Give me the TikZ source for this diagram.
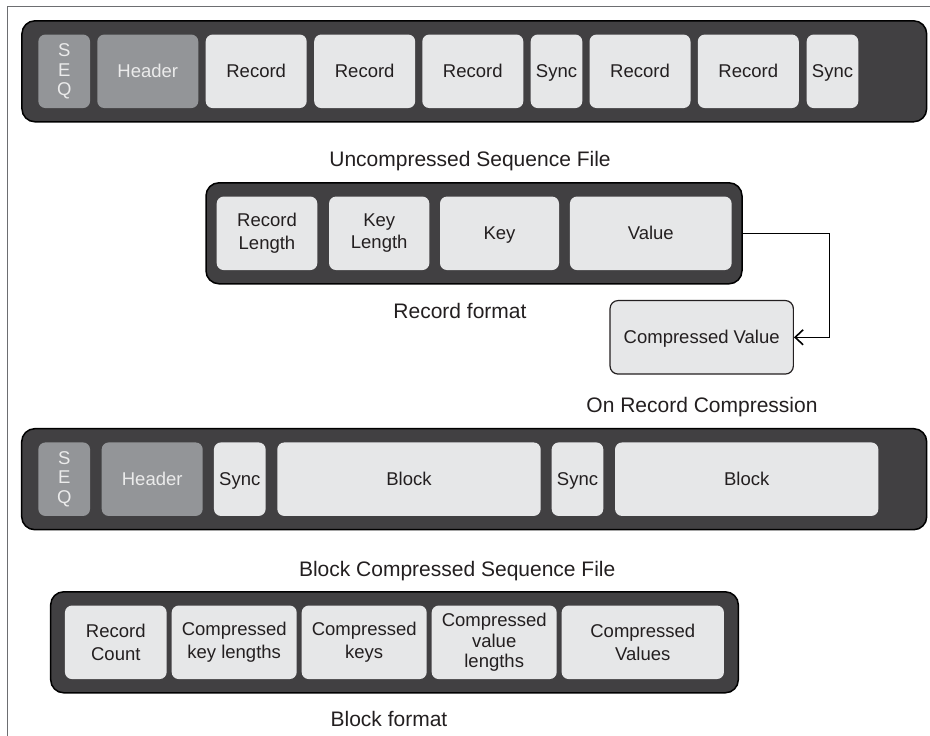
\documentclass[tikz,border=0pt]{standalone}
\usepackage{fontspec}
\setmainfont{Liberation Sans}
\usepackage{xcolor}
\usetikzlibrary{arrows.meta,positioning}
\definecolor{bandgray}{HTML}{414042}
\definecolor{headgray}{HTML}{939598}
\definecolor{cellgray}{HTML}{E6E7E8}
\definecolor{framegray}{HTML}{6D6E71}
\definecolor{inkgray}{HTML}{231F20}

\begin{document}
\begin{tikzpicture}[x=1pt, y=-1pt, >={Straight Barb[length=8pt,width=15pt]},
  band/.style={draw=black, line width=1.5pt, fill=bandgray, rounded corners=13pt,
    inner sep=0pt, minimum height=101pt},
  cell/.style={fill=cellgray, rounded corners=7pt, inner sep=0pt, minimum height=73.5pt,
    text=inkgray, font=\fontsize{18.5}{22.5}\selectfont, align=center},
  hcell/.style={cell, fill=headgray, text=white!92!black},
  oneline/.style={text height=13.3pt, text depth=0pt},
  capt/.style={anchor=base, text=inkgray, font=\fontsize{21}{25}\selectfont}]

  \useasboundingbox (0,0) rectangle (930,736);
  \draw[framegray, line width=1.5pt] (7.5,736) -- (7.5,6.5) -- (930,6.5);

  % Uncompressed sequence file
  \node[band, minimum width=904.7pt] (fileA) at (474.3, 71.3) {};
  \node[hcell, minimum width=51.7pt, font=\fontsize{18.5}{19.5}\selectfont] (seqA) at (64.2, 71.3) {S\\E\\Q};
  \node[hcell, oneline, minimum width=101pt] (headA) at (147.8, 71.3) {Header};
  \node[cell, oneline, minimum width=101pt] (recA1) at (256.2, 71.3) {Record};
  \node[cell, oneline, minimum width=101pt] (recA2) at (364.7, 71.3) {Record};
  \node[cell, oneline, minimum width=101pt] (recA3) at (472.8, 71.3) {Record};
  \node[cell, oneline, minimum width=51.6pt] (syncA1) at (556.5, 71.3) {Sync};
  \node[cell, oneline, minimum width=101pt] (recA4) at (640, 71.3) {Record};
  \node[cell, oneline, minimum width=101pt] (recA5) at (748.3, 71.3) {Record};
  \node[cell, oneline, minimum width=51.6pt] (syncA2) at (832.5, 71.3) {Sync};
  \node[capt] (captA) at (470, 166) {Uncompressed Sequence File};

  % Record format
  \node[band, minimum width=536pt] (recband) at (474, 233.3) {};
  \node[cell, minimum width=100.6pt] (reclen) at (267, 233.3) {Record\\Length};
  \node[cell, minimum width=100.3pt] (keylen) at (379.2, 233.3) {Key\\Length};
  \node[cell, oneline, minimum width=119pt] (key) at (499.5, 233.3) {Key};
  \node[cell, oneline, minimum width=161.7pt] (value) at (650.8, 233.3) {Value};
  \node[capt] (captB) at (460, 318) {Record format};

  % On record compression
  \node[cell, oneline, draw=inkgray, line width=1.2pt, rounded corners=8pt, minimum width=183.3pt] (cval) at (701.7, 337.3) {Compressed Value};
  \node[capt] (captC) at (702, 412.3) {On Record Compression};
  \coordinate (bend) at (829.3, 233.3);
  \draw[->, line width=1.6pt] (recband.east) -- (bend) |- (cval.east);

  % Block compressed sequence file
  \node[band, minimum width=905pt] (fileB) at (474.2, 479.2) {};
  \node[hcell, minimum width=51.7pt, font=\fontsize{18.5}{19.5}\selectfont] (seqB) at (64.2, 479.2) {S\\E\\Q};
  \node[hcell, oneline, minimum width=101pt] (headB) at (152.2, 479.2) {Header};
  \node[cell, oneline, minimum width=51.7pt] (syncB1) at (239.8, 479.2) {Sync};
  \node[cell, oneline, minimum width=263.4pt] (blockB1) at (409, 479.2) {Block};
  \node[cell, oneline, minimum width=51.6pt] (syncB2) at (577.5, 479.2) {Sync};
  \node[cell, oneline, minimum width=263.3pt] (blockB2) at (746.7, 479.2) {Block};
  \node[capt] (captD) at (457.2, 576.7) {Block Compressed Sequence File};

  % Block format
  \node[band, minimum width=687.6pt] (blkband) at (394.5, 642.3) {};
  \node[cell, minimum width=101.7pt] (reccount) at (115.8, 642.3) {Record\\Count};
  \node[cell, minimum width=125pt] (ckeylen) at (234.2, 642.3) {Compressed\\key lengths};
  \node[cell, minimum width=125pt] (ckeys) at (364.2, 642.3) {Compressed\\keys};
  \node[cell, minimum width=125pt, font=\fontsize{18.5}{20.5}\selectfont] (cvallen) at (494.2, 642.3) {Compressed\\value\\lengths};
  \node[cell, minimum width=162.3pt] (cvalues) at (642.8, 642.3) {Compressed\\Values};
  \node[capt] (captE) at (389, 726.7) {Block format};

\end{tikzpicture}
\end{document}
